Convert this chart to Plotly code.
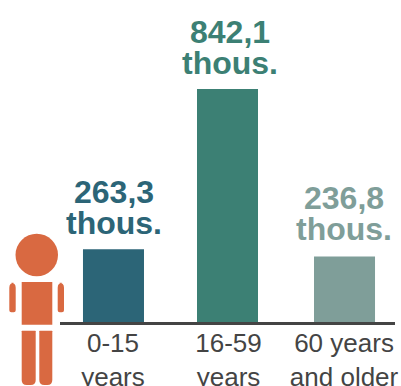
import plotly.graph_objects as go

categories = ["0-15<br>years", "16-59<br>years", "60 years<br>and older"]
values = [263.3, 842.1, 236.8]
value_labels = ["263,3", "842,1", "236,8"]
unit_label = "thous."
bar_colors = ["#2C6577", "#3C8074", "#7F9E99"]
skin = "#D96941"
text_color = "#444444"

W, H = 401, 386
L, R, T, B = 60, 6, 0, 64
PW, PH = W - L - R, H - T - B

def px(x):
    return (x - L) / PW

def py(y):
    return 1 - (y - T) / PH

def rect(x0, y0, x1, y1):
    return dict(type="rect", xref="paper", yref="paper", x0=px(x0), x1=px(x1), y0=py(y0), y1=py(y1),
                fillcolor=skin, line_width=0, layer="above")

def pill(x0, y0, x1, y1, rt, rb):
    def X(v): return f"{px(v):.5f}"
    def Y(v): return f"{py(v):.5f}"
    path = (f"M{X(x0)},{Y(y0+rt)} Q{X(x0)},{Y(y0)} {X(x0+rt)},{Y(y0)} L{X(x1-rt)},{Y(y0)} "
            f"Q{X(x1)},{Y(y0)} {X(x1)},{Y(y0+rt)} L{X(x1)},{Y(y1-rb)} Q{X(x1)},{Y(y1)} {X(x1-rb)},{Y(y1)} "
            f"L{X(x0+rb)},{Y(y1)} Q{X(x0)},{Y(y1)} {X(x0)},{Y(y1-rb)} Z")
    return dict(type="path", xref="paper", yref="paper", path=path, fillcolor=skin, line_width=0, layer="above")

shapes = [
    dict(type="circle", xref="paper", yref="paper", x0=px(15.5), x1=px(58), y0=py(276.3), y1=py(233.7),
         fillcolor=skin, line_width=0, layer="above"),
    rect(21.7, 282, 52.3, 324.7),
    pill(9.3, 282.7, 15.7, 312.3, 5, 2),
    pill(57.7, 282.7, 64, 312.3, 5, 2),
    pill(21.7, 330.7, 35.7, 385, 0.5, 5),
    pill(39.3, 330.7, 52.3, 385, 0.5, 5),
]

bar_w = 61 / 115.5
nudge = [1.5 / 115.5, 0, 1.5 / 115.5]
offsets = [-bar_w / 2 + n for n in nudge]
label_shift = [2.5, 2, 0.5]
label_lift = [0, 0, 1.5]

fig = go.Figure(go.Bar(x=categories, y=values, marker=dict(color=bar_colors, line_width=0),
                       width=bar_w, offset=offsets, hoverinfo="skip"))

annotations = []
for c, v, lab, col, shift, lift in zip(categories, values, value_labels, bar_colors, label_shift, label_lift):
    annotations.append(dict(x=c, y=v, text=f"<b>{unit_label}</b>", showarrow=False, yanchor="bottom", yshift=6 + lift,
                            xshift=shift, font=dict(size=32, color=col, family="Liberation Sans")))
    annotations.append(dict(x=c, y=v, text=f"<b>{lab}</b>", showarrow=False, yanchor="bottom", yshift=37 + lift,
                            xshift=shift, font=dict(size=32, color=col, family="Liberation Sans")))

fig.update_layout(
    width=W, height=H, autosize=False,
    margin=dict(l=L, r=R, t=T, b=B, pad=0, autoexpand=False),
    paper_bgcolor="white", plot_bgcolor="white",
    showlegend=False, shapes=shapes, annotations=annotations,
    font=dict(family="Liberation Sans", color=text_color),
    xaxis=dict(type="category", range=[-0.45, 2.45], showline=True, linecolor="#444444", linewidth=2.5,
               automargin=False, ticks="", showgrid=False, zeroline=False,
               tickfont=dict(size=26, color=text_color), ticklen=0,
               ticklabelstandoff=-4, ticklabelshift=1),
    yaxis=dict(range=[0, 842.1 * PH / 233], visible=False, showgrid=False, zeroline=False, automargin=False),
)
fig.write_html("out.html", config=dict(displayModeBar=False),
               post_script="document.body.style.margin='0';document.documentElement.style.overflow='hidden';")
